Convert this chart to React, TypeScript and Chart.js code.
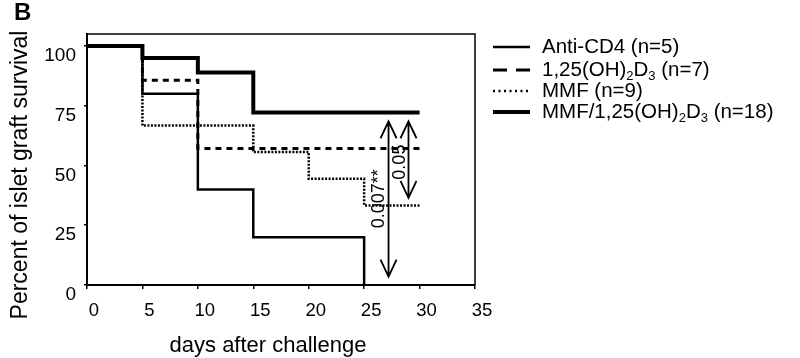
import React, { useEffect, useRef } from 'react';
import { Chart, registerables } from 'chart.js';

Chart.register(...registerables);

// ---- data ----
const seriesLabels = ['Anti-CD4 (n=5)', '1,25(OH)₂D₃ (n=7)', 'MMF (n=9)', 'MMF/1,25(OH)₂D₃ (n=18)'];

const antiCD4Days = [0, 5, 10, 15, 25];
const antiCD4Survival = [100, 80, 40, 20, 0];

const vitDDays = [0, 5, 10, 30];
const vitDSurvival = [100, 85.7, 57.1, 57.1];

const mmfDays = [0, 5, 15, 20, 25, 30];
const mmfSurvival = [100, 66.7, 55.6, 44.4, 33.3, 33.3];

const comboDays = [0, 5, 10, 15, 30];
const comboSurvival = [100, 95, 88.9, 72.2, 72.2];

const xTickValues = [0, 5, 10, 15, 20, 25, 30, 35];
const yTickValues = [0, 25, 50, 75, 100];

const xTitle = 'days after challenge';
const yTitle = 'Percent of islet graft survival';
const panelLetter = 'B';

// p-value comparison arrows (day, from %, to %) and their labels
const pValueLabels = ['0.007**', '0.05'];
const pArrowDay = [27.2, 29.0];
const pArrowFrom = [68.5, 68.5];
const pArrowTo = [3.5, 36.4];
const pLabelDay = [26.3, 28.2];
const pLabelSurvival = [36.1, 51.4];

const FONT = '"Liberation Sans", Arial, sans-serif';

const styles = [
  { width: 2.5, dash: [] as number[], legendDash: [] as number[] },
  { width: 3, dash: [6, 5], legendDash: [14, 9] },
  { width: 2.5, dash: [2, 1.5], legendDash: [2, 3.5] },
  { width: 4, dash: [] as number[], legendDash: [] as number[] },
];

function toPoints(days: number[], vals: number[]) {
  return days.map((d, i) => ({ x: d, y: vals[i] }));
}

function drawRich(ctx: CanvasRenderingContext2D, text: string, x: number, y: number, size: number) {
  let cx = x;
  for (const ch of Array.from(text)) {
    if (ch === '₂' || ch === '₃') {
      const digit = ch === '₂' ? '2' : '3';
      ctx.font = `${Math.round(size * 0.65)}px ${FONT}`;
      ctx.fillText(digit, cx, y + size * 0.3);
      cx += ctx.measureText(digit).width;
    } else {
      ctx.font = `${size}px ${FONT}`;
      ctx.fillText(ch, cx, y);
      cx += ctx.measureText(ch).width;
    }
  }
}

const overlayPlugin = {
  id: 'overlay',
  afterDraw(chart: any) {
    const { ctx, chartArea: ca, scales } = chart;
    const x = scales.x;
    const y = scales.y;
    ctx.save();
    ctx.fillStyle = '#000';
    ctx.strokeStyle = '#000';
    ctx.setLineDash([]);

    // frame top/right
    ctx.lineWidth = 1.5;
    ctx.beginPath();
    ctx.moveTo(ca.left, ca.top);
    ctx.lineTo(ca.right, ca.top);
    ctx.lineTo(ca.right, ca.bottom);
    ctx.stroke();

    // arrows
    ctx.lineWidth = 1.8;
    for (let i = 0; i < pArrowDay.length; i++) {
      const px = x.getPixelForValue(pArrowDay[i]);
      const top = y.getPixelForValue(pArrowFrom[i]);
      const bot = y.getPixelForValue(pArrowTo[i]);
      ctx.beginPath();
      ctx.moveTo(px, top);
      ctx.lineTo(px, bot);
      ctx.moveTo(px - 8, top + 17);
      ctx.lineTo(px, top);
      ctx.lineTo(px + 8, top + 17);
      ctx.moveTo(px - 8, bot - 17);
      ctx.lineTo(px, bot);
      ctx.lineTo(px + 8, bot - 17);
      ctx.stroke();
    }
    // p labels
    ctx.font = `18px ${FONT}`;
    ctx.textAlign = 'center';
    ctx.textBaseline = 'middle';
    for (let i = 0; i < pValueLabels.length; i++) {
      const lx = x.getPixelForValue(pLabelDay[i]);
      const ly = y.getPixelForValue(pLabelSurvival[i]);
      ctx.save();
      ctx.translate(lx, ly);
      ctx.rotate(-Math.PI / 2);
      ctx.fillText(pValueLabels[i], 0, 0);
      ctx.restore();
    }

    // axis titles
    ctx.font = `22px ${FONT}`;
    ctx.textAlign = 'center';
    ctx.textBaseline = 'middle';
    ctx.fillText(xTitle, 268, 346);
    ctx.save();
    ctx.translate(21, 175);
    ctx.rotate(-Math.PI / 2);
    ctx.font = `23px ${FONT}`;
    ctx.fillText(yTitle, 0, 0);
    ctx.restore();

    // panel letter
    ctx.font = `bold 24px ${FONT}`;
    ctx.textAlign = 'left';
    ctx.textBaseline = 'middle';
    ctx.fillText(panelLetter, 14, 13);

    // legend
    const rows = [47, 70, 91, 112];
    ctx.textAlign = 'left';
    ctx.textBaseline = 'middle';
    for (let i = 0; i < seriesLabels.length; i++) {
      const ry = rows[i];
      ctx.lineWidth = styles[i].width;
      ctx.setLineDash(styles[i].legendDash);
      ctx.beginPath();
      ctx.moveTo(493, ry);
      ctx.lineTo(530, ry);
      ctx.stroke();
      ctx.setLineDash([]);
      drawRich(ctx, seriesLabels[i], 542, ry, 20.5);
    }
    ctx.restore();
  },
};

export default function App() {
  const ref = useRef<HTMLCanvasElement>(null);
  useEffect(() => {
    if (!ref.current) return;
    const series = [
      toPoints(antiCD4Days, antiCD4Survival),
      toPoints(vitDDays, vitDSurvival),
      toPoints(mmfDays, mmfSurvival),
      toPoints(comboDays, comboSurvival),
    ];
    const chart = new Chart(ref.current, {
      type: 'line',
      data: {
        datasets: series.map((data, i) => ({
          label: seriesLabels[i],
          data,
          borderColor: '#000',
          backgroundColor: '#000',
          borderWidth: styles[i].width,
          borderDash: styles[i].dash,
          borderCapStyle: 'butt',
          stepped: true,
          pointRadius: 0,
          fill: false,
        })),
      },
      options: {
        responsive: false,
        animation: false,
        devicePixelRatio: 1,
        layout: { padding: { left: 0, top: 34, right: 325, bottom: 0 } },
        plugins: { legend: { display: false }, tooltip: { enabled: false } },
        scales: {
          x: {
            type: 'linear',
            min: 0,
            max: 35,
            afterFit: (s: any) => { s.height = 73; },
            afterBuildTicks: (s: any) => { s.ticks = xTickValues.map((v) => ({ value: v })); },
            grid: { drawOnChartArea: false, drawTicks: true, tickLength: 4, color: '#000', lineWidth: 1.5 },
            border: { display: true, color: '#000', width: 2 },
            ticks: {
              color: '#000',
              font: { family: FONT, size: 18.5 },
              padding: 11,
              labelOffset: 7,
              maxRotation: 0,
            },
          },
          y: {
            type: 'linear',
            min: 0,
            max: 105,
            afterFit: (s: any) => { s.width = 87; },
            afterBuildTicks: (s: any) => { s.ticks = yTickValues.map((v) => ({ value: v })); },
            grid: { drawOnChartArea: false, drawTicks: true, tickLength: 3, color: '#000', lineWidth: 1.5 },
            border: { display: true, color: '#000', width: 2 },
            ticks: {
              color: '#000',
              font: { family: FONT, size: 19 },
              padding: 8,
              labelOffset: 10,
            },
          },
        },
      },
      plugins: [overlayPlugin],
    } as any);
    return () => chart.destroy();
  }, []);
  return (
    <div style={{ position: 'absolute', left: 0, top: 0, width: 800, height: 358, background: '#fff' }}>
      <canvas ref={ref} width={800} height={358} />
    </div>
  );
}
